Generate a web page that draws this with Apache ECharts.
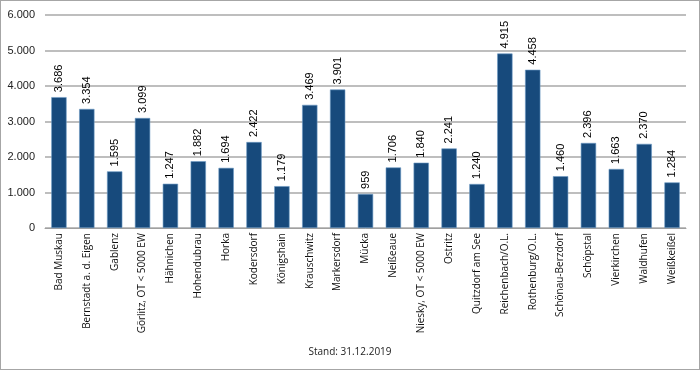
<!DOCTYPE html>
<html><head><meta charset="utf-8">
<script src="https://cdn.jsdelivr.net/npm/echarts@6/dist/echarts.min.js"></script>
<style>html,body{margin:0;padding:0;background:#fff}#c{width:700px;height:370px;box-sizing:border-box;border:1px solid #a6a6a6}</style>
</head><body><div id="c"></div>
<script>
const categories = ["Bad Muskau","Bernstadt a. d. Eigen","Gablenz","Görlitz, OT < 5000 EW","Hähnichen","Hohendubrau","Horka","Kodersdorf","Königshain","Krauschwitz","Markersdorf","Mücka","Neißeaue","Niesky, OT < 5000 EW","Ostritz","Quitzdorf am See","Reichenbach/O.L.","Rothenburg/O.L.","Schönau-Berzdorf","Schöpstal","Vierkirchen","Waldhufen","Weißkeißel"];
const values = [3686,3354,1595,3099,1247,1882,1694,2422,1179,3469,3901,959,1706,1840,2241,1240,4915,4458,1460,2396,1663,2370,1284];
const footnote = "Stand: 31.12.2019";
const fmt = v => { const n = Math.round(Number(v)); return n >= 1000 ? Math.floor(n/1000) + "." + String(n%1000).padStart(3,"0") : String(n); };
const chart = echarts.init(document.getElementById('c'));
chart.setOption({
  animation:false,
  textStyle:{fontFamily:'Liberation Sans'},
  grid:{left:44,right:13,top:14,bottom:141},
  title:{text:footnote,left:'center',top:341,textStyle:{fontSize:10,fontWeight:'normal',color:'#222',fontFamily:'Open Sans'}},
  xAxis:{type:'category',data:categories,
    axisLine:{lineStyle:{color:'#a0a0a0',width:1}},axisTick:{show:false},
    axisLabel:{rotate:90,interval:0,fontSize:10,color:'#111',margin:5,fontFamily:'Open Sans'}},
  yAxis:{type:'value',min:0,max:6000,interval:1000,
    axisLabel:{formatter:fmt,fontSize:11,color:'#222',margin:10},
    splitLine:{lineStyle:{color:'#a8a8a8',width:1.5}},axisLine:{show:false},axisTick:{show:false}},
  series:[{type:'bar',data:values,barWidth:'55%',
    itemStyle:{color:'#174a7c',borderColor:'#6f9cc6',borderWidth:0.6},
    label:{show:true,position:'top',rotate:90,align:'left',verticalAlign:'middle',distance:5,formatter:p=>fmt(p.value),fontSize:11,color:'#000'}}]
});
</script></body></html>
